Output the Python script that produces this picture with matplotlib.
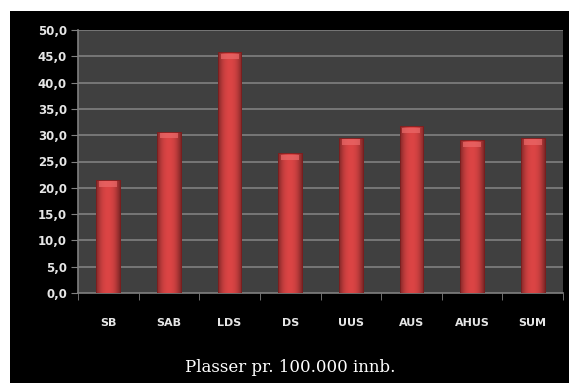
import matplotlib
matplotlib.use("Agg")
import matplotlib.pyplot as plt
import numpy as np
from matplotlib.patches import Rectangle

categories = ["SB", "SAB", "LDS", "DS", "UUS", "AUS", "AHUS", "SUM"]
values = [21.5, 30.7, 45.8, 26.6, 29.5, 31.7, 29.1, 29.5]
yticks = [0, 5, 10, 15, 20, 25, 30, 35, 40, 45, 50]
ytick_labels = ["0,0", "5,0", "10,0", "15,0", "20,0", "25,0", "30,0", "35,0", "40,0", "45,0", "50,0"]
title = "Plasser pr. 100.000 innb."

W, H = 569, 383
fig = plt.figure(figsize=(W / 100, H / 100), dpi=100, facecolor="white")
bg = fig.add_axes([10 / W, 0, 1 - 10 / W, 1 - 11 / H], zorder=-10)
bg.set_facecolor("black")
bg.set_xticks([]); bg.set_yticks([])
for s in bg.spines.values():
    s.set_visible(False)

ax = fig.add_axes([78 / W, 1 - 293 / H, (563 - 78) / W, (293 - 30) / H], zorder=1)
ax.set_facecolor("#404040")

for y in yticks[1:]:
    ax.axhline(y, color="#808080", lw=1.2, zorder=1)

x = np.arange(len(categories))
bw = 0.39
bars = ax.bar(x, values, width=bw, color="#d03c3c", edgecolor="#7a1e1e", linewidth=0.6, zorder=3)

grad_x = np.linspace(-1, 1, 64)
shade = 1 - 0.42 * np.abs(grad_x) ** 2.2
base = np.array([0.86, 0.27, 0.27])
img = (shade[None, :, None] * base[None, None, :])
for b in bars:
    x0, w_, h_ = b.get_x(), b.get_width(), b.get_height()
    im = ax.imshow(img, extent=(x0, x0 + w_, 0, h_), aspect="auto", zorder=3.5, interpolation="bilinear")
    im.set_clip_path(b)
    cap = Rectangle((x0 + w_ * 0.12, h_ - 1.3), w_ * 0.76, 1.0, facecolor="#ec6a6a",
                    edgecolor="none", zorder=4, alpha=0.7)
    ax.add_patch(cap)
    ax.add_patch(Rectangle((x0, 0), w_, h_, facecolor="none", edgecolor="#7a1e1e", lw=0.6, zorder=4.5))

ax.set_xlim(-0.5, len(categories) - 0.5)
ax.set_ylim(0, 50)
ax.set_yticks(yticks)
ax.set_yticklabels(ytick_labels)
ax.set_xticks(x)
ax.set_xticklabels(categories)
ax.set_xticks(np.arange(-0.5, len(categories), 1), minor=True)
ax.tick_params(axis="x", which="major", length=0, pad=18, labelsize=8)
ax.tick_params(axis="x", which="minor", length=5, color="#808080", direction="out")
ax.tick_params(axis="y", length=5, color="#808080", labelsize=8.5, pad=3)
for lab in ax.get_xticklabels() + ax.get_yticklabels():
    lab.set_fontweight("bold")
    lab.set_color("#e6e6e6")
for s in ["top", "right"]:
    ax.spines[s].set_visible(False)
for s in ["left", "bottom"]:
    ax.spines[s].set_color("#808080")
    ax.spines[s].set_linewidth(1.2)

fig.text(290 / W, 1 - 368 / H, title, ha="center", va="center", color="white",
         fontsize=12, family="DejaVu Serif")

fig.savefig("out.png", dpi=100, facecolor="white")
